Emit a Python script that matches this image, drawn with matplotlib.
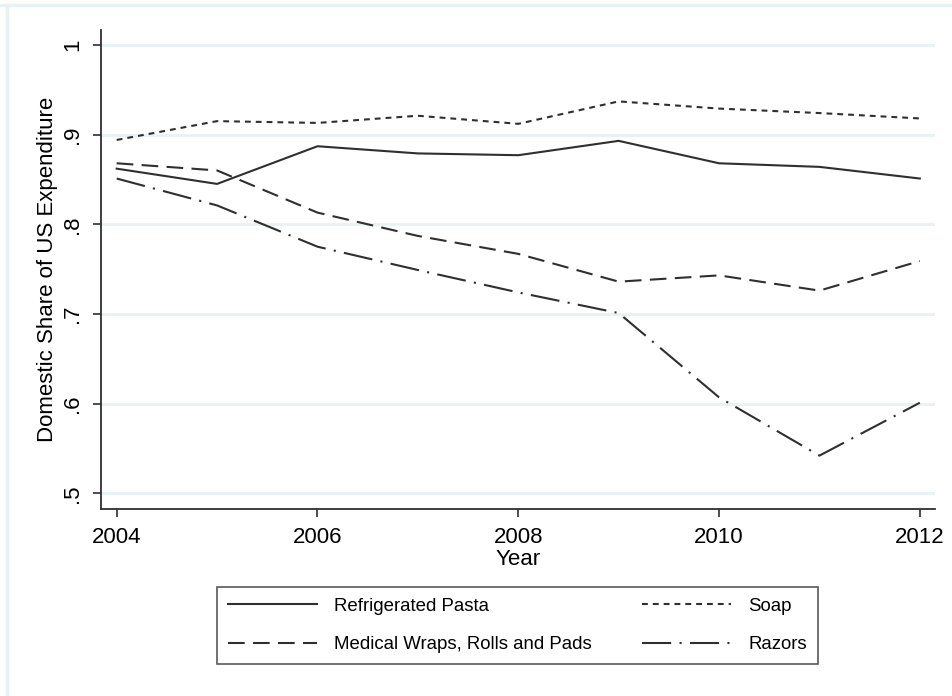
import matplotlib
matplotlib.use('Agg')
import matplotlib.pyplot as plt
from matplotlib.lines import Line2D


# domestic share of US expenditure by product, 2004-2012
years = [2004, 2005, 2006, 2007, 2008, 2009, 2010, 2011, 2012]
pasta = [0.862, 0.845, 0.887, 0.879, 0.877, 0.893, 0.868, 0.864, 0.851]
soap = [0.894, 0.915, 0.913, 0.921, 0.912, 0.937, 0.929, 0.924, 0.918]
medical = [0.868, 0.860, 0.813, 0.787, 0.767, 0.736, 0.743, 0.726, 0.759]
razors = [0.851, 0.821, 0.775, 0.749, 0.724, 0.701, 0.607, 0.542, 0.601]

y_ticks = [0.5, 0.6, 0.7, 0.8, 0.9, 1.0]
y_tick_labels = ['.5', '.6', '.7', '.8', '.9', '1']
x_ticks = [2004, 2006, 2008, 2010, 2012]

plt.rcParams['font.family'] = ['Liberation Sans', 'DejaVu Sans']

ink = '#2f2f2f'
grid_col = '#eaf1f3'

fig = plt.figure(figsize=(9.53, 6.96), dpi=100)
ax = fig.add_axes([0.106, 0.2687, 0.875, 0.6883])

# plot the four series
lw = 1.5
ax.plot(years, pasta, color=ink, lw=lw, linestyle='-', label='Refrigerated Pasta')
ax.plot(years, soap, color=ink, lw=lw, linestyle=(0, (2.8, 2.4)), label='Soap')
ax.plot(years, medical, color=ink, lw=lw, linestyle=(0, (8, 4)),
        label='Medical Wraps, Rolls and Pads')
ax.plot(years, razors, color=ink, lw=lw, linestyle=(0, (14, 4, 1, 4)), label='Razors')

# axis settings
ax.set_xlim(2003.844, 2012.15)
ax.set_ylim(0.4825, 1.0167)
ax.set_yticks(y_ticks)
ax.set_yticklabels(y_tick_labels, rotation=90, va='center')
ax.set_xticks(x_ticks)
ax.grid(visible=True, axis='y', color=grid_col, lw=2)
ax.set_axisbelow(True)
for side in ['top', 'right']:
    ax.spines[side].set_visible(False)
for side in ['left', 'bottom']:
    ax.spines[side].set_color(ink)
    ax.spines[side].set_linewidth(1.3)
ax.tick_params(axis='both', length=6, width=1.2, color=ink, labelsize=16, pad=7)
ax.set_ylabel('Domestic Share of US Expenditure', fontsize=16, labelpad=3)
ax.set_xlabel('Year', fontsize=16, labelpad=1)

# legend below the plot
leg = fig.legend(loc='center', bbox_to_anchor=(0.543, 0.1013), ncol=2,
                 handles=[ax.lines[0], ax.lines[2], ax.lines[1], ax.lines[3]],
                 fontsize=13.4, handlelength=4.8, handletextpad=0.9,
                 columnspacing=2.7, labelspacing=1.15, borderpad=0.6,
                 fancybox=False, frameon=True)
leg.get_frame().set_edgecolor(ink)
leg.get_frame().set_linewidth(1.2)

# thin outer border on top and left
fig.add_artist(Line2D([0, 1], [1 - 5 / 696, 1 - 5 / 696], color=grid_col, lw=2.5,
                      transform=fig.transFigure))
fig.add_artist(Line2D([7.5 / 953, 7.5 / 953], [0, 1 - 5 / 696], color=grid_col, lw=2.5,
                      transform=fig.transFigure))

fig.savefig('out.png', dpi=100)
